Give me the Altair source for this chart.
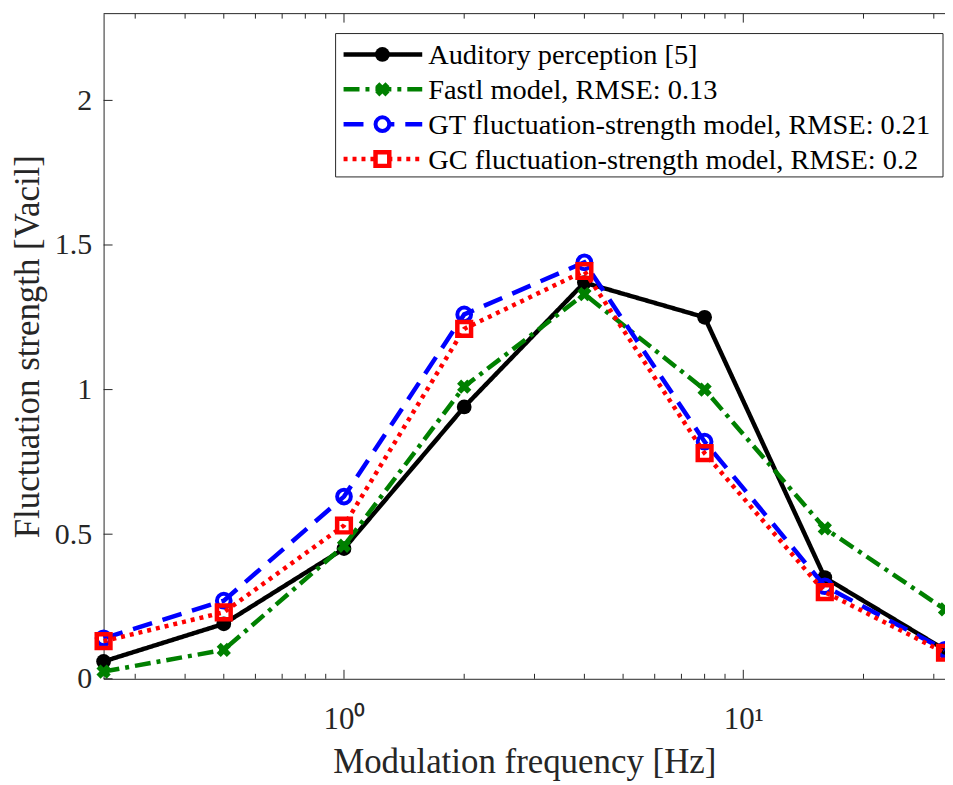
import altair as alt
import pandas as pd

# ---- data ----
freqs = [0.25, 0.5, 1, 2, 4, 8, 16, 32]
auditory = [0.06, 0.19, 0.45, 0.94, 1.37, 1.25, 0.35, 0.10]
fastl = [0.025, 0.10, 0.46, 1.01, 1.33, 1.00, 0.52, 0.24]
gt_model = [0.14, 0.27, 0.63, 1.26, 1.44, 0.82, 0.32, 0.10]
gc_model = [0.13, 0.23, 0.53, 1.21, 1.41, 0.78, 0.30, 0.09]

series_names = [
    "Auditory perception [5]",
    "Fastl model, RMSE: 0.13",
    "GT fluctuation-strength model, RMSE: 0.21",
    "GC fluctuation-strength model, RMSE: 0.2",
]
series_values = [auditory, fastl, gt_model, gc_model]
series_colors = ["#000000", "#008000", "#0000FF", "#FF0000"]
series_dash = [[1, 0], [16, 6, 4, 6], [20, 11], [4, 5]]

x_major_ticks = [1, 10]
x_minor_ticks = [0.3, 0.4, 0.5, 0.6, 0.7, 0.8, 0.9, 2, 3, 4, 5, 6, 7, 8, 9, 20, 30]
y_ticks = [0, 0.5, 1, 1.5, 2]

W, H = 845, 668
FONT = "Liberation Serif"
AX = "#262626"

xscale = alt.Scale(type="log", domain=[0.25, 32], nice=False)
yscale = alt.Scale(domain=[0, 2.3], nice=False)

x_axis = alt.Axis(
    values=x_major_ticks, labelExpr="datum.value == 1 ? '10⁰' : '10¹'",
    ticks=False, grid=False, domain=True, domainColor=AX,
    labelFont=FONT, labelFontSize=31, labelColor=AX, labelPadding=26,
    title="Modulation frequency [Hz]", titleFont=FONT, titleFontSize=35,
    titleFontWeight="normal", titleColor=AX, titlePadding=10)
y_axis = alt.Axis(
    values=y_ticks, format="~g", ticks=False, grid=False, domain=True,
    domainColor=AX, labelFont=FONT, labelFontSize=30, labelColor=AX,
    labelPadding=12, title="Fluctuation strength [Vacil]", titleFont=FONT,
    titleFontSize=35, titleFontWeight="normal", titleColor=AX, titlePadding=9)

X = lambda field: alt.X(field, scale=xscale, axis=x_axis)
Y = lambda field: alt.Y(field, scale=yscale, axis=y_axis)

point_styles = [
    dict(shape="circle", filled=True, size=220, strokeWidth=0),
    dict(shape="cross", filled=True, size=210, angle=45, strokeWidth=0),
    dict(shape="circle", filled=False, size=190, strokeWidth=4),
    dict(shape="square", filled=False, size=190, strokeWidth=4.5),
]

layers = []
for name, vals, col, dash, ps in zip(series_names, series_values, series_colors, series_dash, point_styles):
    df = pd.DataFrame({"f": freqs, "v": vals})
    layers.append(alt.Chart(df).mark_line(color=col, strokeWidth=4.5, strokeDash=dash).encode(
        x=X("f:Q"), y=Y("v:Q")))
    pkw = dict(ps)
    if pkw["filled"]:
        pkw["fill"] = col
    else:
        pkw["stroke"] = col
        pkw["fillOpacity"] = 0
    pkw["opacity"] = 1
    layers.append(alt.Chart(df).mark_point(**pkw).encode(x=X("f:Q"), y=Y("v:Q")))

# tick marks (inward, MATLAB style)
minor_df = pd.DataFrame({"f": x_minor_ticks})
major_df = pd.DataFrame({"f": x_major_ticks})
ytick_df = pd.DataFrame({"v": y_ticks})
for df, ln in [(minor_df, 5), (major_df, 9)]:
    layers.append(alt.Chart(df).mark_rule(color=AX, strokeWidth=1).encode(
        x=X("f:Q"), y=alt.value(H), y2=alt.value(H - ln)))
    layers.append(alt.Chart(df).mark_rule(color=AX, strokeWidth=1).encode(
        x=X("f:Q"), y=alt.value(0), y2=alt.value(ln)))
layers.append(alt.Chart(ytick_df).mark_rule(color=AX, strokeWidth=1).encode(
    y=Y("v:Q"), x=alt.value(0), x2=alt.value(9)))
one = pd.DataFrame({"a": [0]})
# top border
layers.append(alt.Chart(one).mark_rule(color=AX, strokeWidth=1).encode(
    x=alt.value(0), x2=alt.value(W), y=alt.value(0)))

# legend (drawn by hand to show line + marker)
LX0, LX1, LY0, LY1 = 233, 843, 20, 164
layers.append(alt.Chart(one).mark_rect(fill="white", stroke=AX, strokeWidth=1).encode(
    x=alt.value(LX0), x2=alt.value(LX1), y=alt.value(LY0), y2=alt.value(LY1)))
rows_y = [41, 76, 111, 146]
for name, col, dash, ps, ry in zip(series_names, series_colors, series_dash, point_styles, rows_y):
    layers.append(alt.Chart(one).mark_rule(color=col, strokeWidth=4.5, strokeDash=dash).encode(
        x=alt.value(241), x2=alt.value(320), y=alt.value(ry)))
    pkw = dict(ps)
    if pkw["filled"]:
        pkw["fill"] = col
    else:
        pkw["stroke"] = col
        pkw["fill"] = "white"
        pkw["fillOpacity"] = 1
    pkw["opacity"] = 1
    layers.append(alt.Chart(one).mark_point(**pkw).encode(x=alt.value(280), y=alt.value(ry)))
    layers.append(alt.Chart(one).mark_text(align="left", baseline="middle", font=FONT,
                                           fontSize=28.5, color="#000000").encode(
        x=alt.value(326), y=alt.value(ry + 1), text=alt.value(name)))

chart = alt.layer(*layers).properties(
    width=W, height=H,
    autosize=alt.AutoSizeParams(type="none"),
    padding={"left": 96, "top": 4, "right": 0, "bottom": 104},
    background="white",
).configure_view(stroke=None)

chart.save("out.html", embed_options={"renderer": "svg", "actions": False})
